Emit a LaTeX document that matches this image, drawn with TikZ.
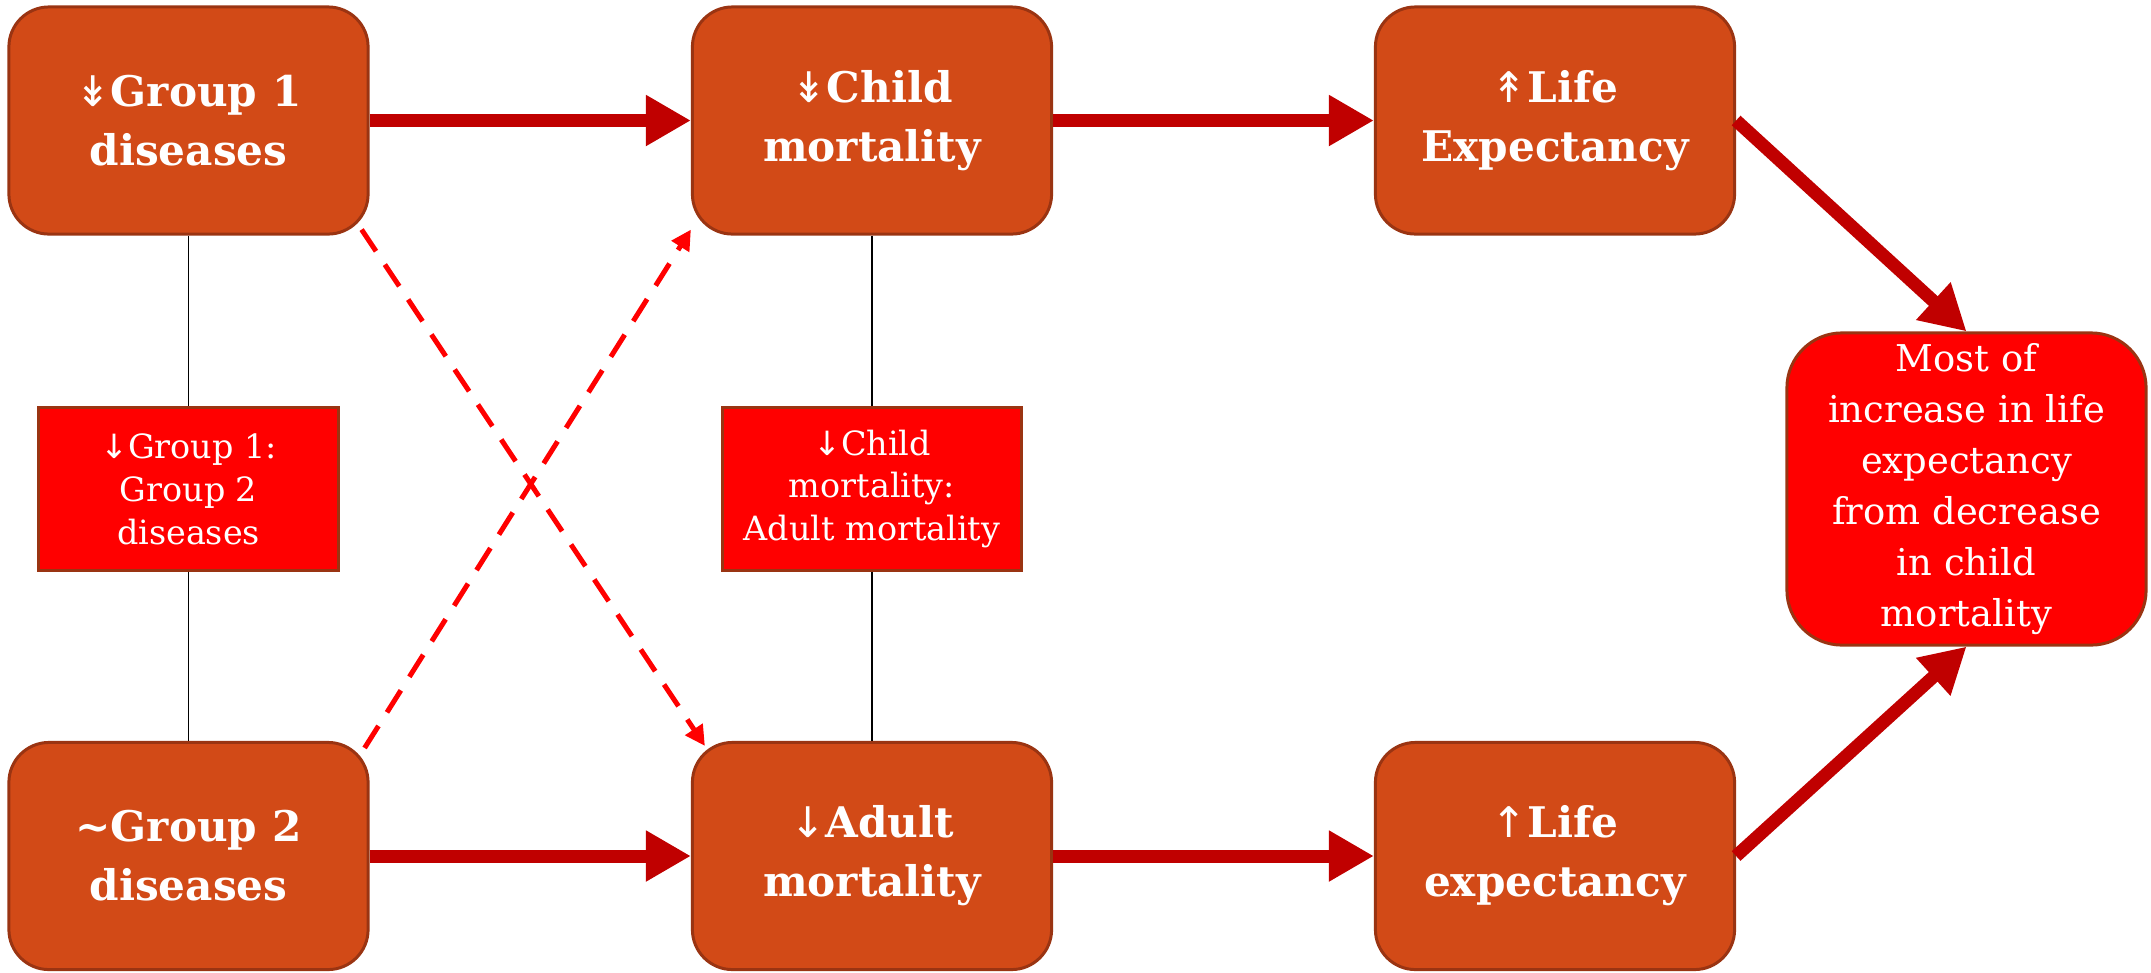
\documentclass[tikz,border=0pt]{standalone}
\usepackage{fontspec}
\setmainfont{DejaVu Serif}
\newfontfamily\arrfont{DejaVu Sans}
\usetikzlibrary{arrows.meta,calc}
\definecolor{boxfill}{HTML}{D24A17}
\definecolor{boxline}{HTML}{9A3412}
\definecolor{redfill}{HTML}{FF0000}
\definecolor{arrowred}{HTML}{C00000}
\newcommand{\arr}[1]{{\arrfont\mdseries #1}}
\begin{document}
\begin{tikzpicture}[x=0.01cm,y=-0.01cm,
  bigbox/.style={draw=boxline, fill=boxfill, line width=0.85pt, rounded corners=0.4cm,
    minimum width=3.59cm, minimum height=2.27cm, text=white, align=center, inner sep=0pt,
    font=\bfseries\fontsize{12}{16.8}\selectfont},
  ratiobox/.style={draw=boxline, fill=redfill, line width=0.85pt,
    minimum width=2.99cm, minimum height=1.62cm, text=white, align=center, inner sep=0pt,
    font=\fontsize{9.5}{12.2}\selectfont},
  finalbox/.style={draw=boxline, fill=redfill, line width=0.85pt, rounded corners=0.55cm,
    minimum width=3.59cm, minimum height=3.12cm, text=white, align=center, inner sep=0pt,
    font=\fontsize{10.5}{14.5}\selectfont},
  thickarrow/.style={draw=arrowred, line width=0.13cm, -{Triangle[length=0.45cm,width=0.48cm]}},
  dasharrow/.style={draw=redfill, line width=0.05cm, dash pattern=on 0.26cm off 0.16cm,
    -{Triangle[length=0.2cm,width=0.2cm]}},
  thinline/.style={draw=black, line width=0.5pt}
]
\useasboundingbox (0,0) rectangle (2151,972);

% vertical thin lines (behind)
\node[ratiobox] (r1) at (188.5,489) {\arr{↓}Group 1:\\Group 2\\diseases};
\node[ratiobox] (r2) at (872,489) {\arr{↓}Child\\mortality:\\Adult mortality};

\node[bigbox] (g1) at (188.5,120.5) {\arr{↡}Group 1\\diseases};
\node[bigbox] (cm) at (872,120.5) {\arr{↡}Child\\mortality};
\node[bigbox] (le) at (1555,120.5) {\arr{↟}Life\\Expectancy};
\node[bigbox] (g2) at (188.5,856) {\textasciitilde Group 2\\diseases};
\node[bigbox] (am) at (872,856) {\arr{↓}Adult\\mortality};
\node[bigbox] (le2) at (1555,856) {\arr{↑}Life\\expectancy};
\node[finalbox] (fin) at (1966.5,489) {Most of\\increase in life\\expectancy\\from decrease\\in child\\mortality};

\draw[thinline] (g1.south) -- (r1.north);
\draw[thinline] (r1.south) -- (g2.north);
\draw[thinline] (cm.south) -- (r2.north);
\draw[thinline] (r2.south) -- (am.north);

\draw[thickarrow] (g1.east) -- (cm.west);
\draw[thickarrow] (cm.east) -- (le.west);
\draw[thickarrow] (g2.east) -- (am.west);
\draw[thickarrow] (am.east) -- (le2.west);
\draw[thickarrow] (le.east) -- (fin.north);
\draw[thickarrow] (le2.east) -- (fin.south);

\draw[dasharrow] ($(g1.south east)+(-8,-6)$) -- ($(am.north west)+(14,5)$);
\draw[dasharrow] ($(g2.north east)+(-5,7)$) -- ($(cm.south west)+(0,-6)$);
\end{tikzpicture}
\end{document}
